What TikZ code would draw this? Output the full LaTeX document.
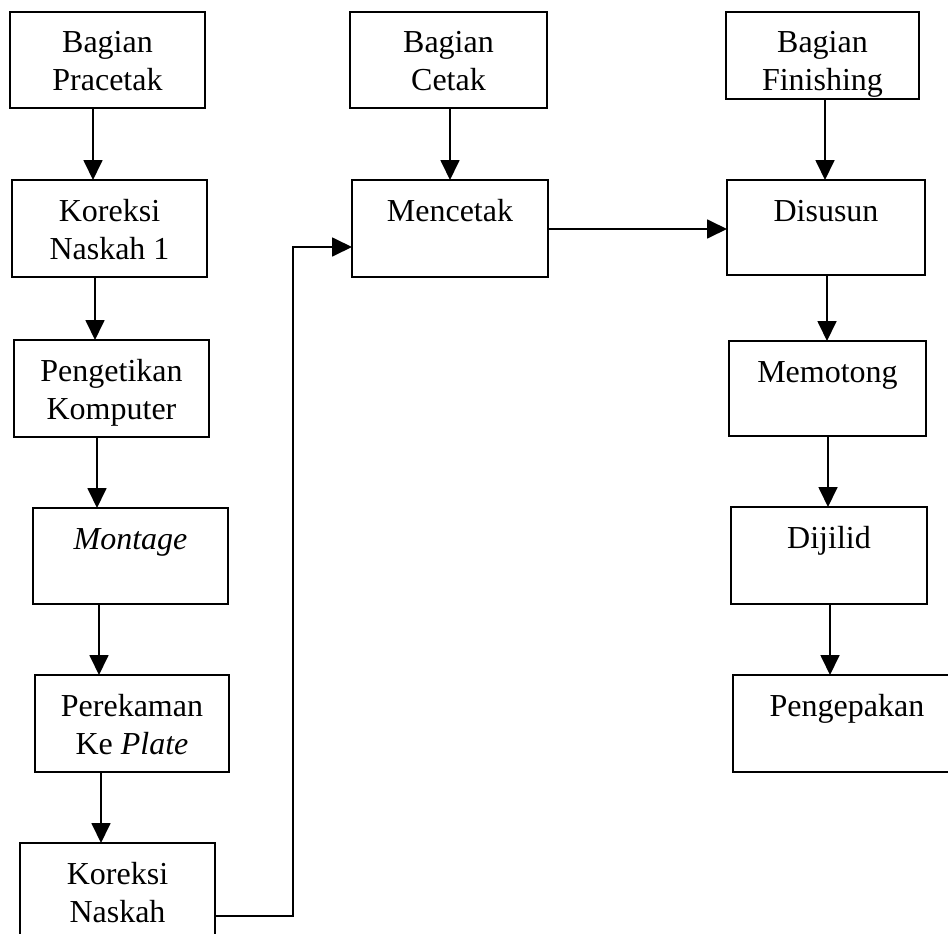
\documentclass[tikz,border=0pt]{standalone}
\usepackage{fontspec}
\setmainfont{Liberation Serif}
\usetikzlibrary{arrows.meta}
\newcommand\bxt[3]{\parbox[c][#2pt][t]{#1pt}{\centering\rule{0pt}{41pt}#3}}
\begin{document}
\begin{tikzpicture}[x=1pt,y=-1pt,
  box/.style={draw,line width=1.8pt,inner sep=0pt,outer sep=0pt,font=\fontsize{32pt}{38pt}\selectfont},
  conn/.style={line width=1.8pt,-{Triangle[length=20pt,width=19pt]}},
  plain/.style={line width=1.8pt}]
\useasboundingbox (0,0) rectangle (948,934);
\clip (0,0) rectangle (948,934);
\fill[white] (0,0) rectangle (948,934);
% left column
\node[box] (P1) at (107.5,60) {\bxt{195}{96}{Bagian\\Pracetak}};
\node[box] (P2) at (109.5,228.5) {\bxt{195}{97}{Koreksi\\Naskah 1}};
\node[box] (P3) at (111.5,388.5) {\bxt{195}{97}{Pengetikan\\Komputer}};
\node[box] (P4) at (130.5,556) {\bxt{195}{96}{\textit{Montage}}};
\node[box] (P5) at (132,723.5) {\bxt{194}{97}{Perekaman\\Ke \textit{Plate}}};
\node[box] (P6) at (117.5,891) {\bxt{195}{96}{Koreksi\\Naskah}};
% middle column
\node[box] (C1) at (448.5,60) {\bxt{197}{96}{Bagian\\Cetak}};
\node[box] (C2) at (450,228.5) {\bxt{196}{97}{Mencetak}};
% right column
\node[box] (F1) at (822.5,55.5) {\bxt{193}{87}{Bagian\\Finishing}};
\node[box] (F2) at (826,227.5) {\bxt{198}{95}{Disusun}};
\node[box] (F3) at (827.5,388.5) {\bxt{197}{95}{Memotong}};
\node[box] (F4) at (829,555.5) {\bxt{196}{97}{Dijilid}};
\node[box] (F5) at (847,723.5) {\bxt{228}{97}{Pengepakan}};
% connectors
\draw[conn] (P1.south -| 93,0) -- (P2.north -| 93,0);
\draw[conn] (P2.south -| 95,0) -- (P3.north -| 95,0);
\draw[conn] (P3.south -| 97,0) -- (P4.north -| 97,0);
\draw[conn] (P4.south -| 99,0) -- (P5.north -| 99,0);
\draw[conn] (P5.south -| 101,0) -- (P6.north -| 101,0);
\draw[conn] (P6.east |- 0,916) -| (293,247) -- (C2.west |- 0,247);
\draw[conn] (C1.south -| 450,0) -- (C2.north -| 450,0);
\draw[conn] (C2.east |- 0,229) -- (F2.west |- 0,229);
\draw[conn] (F1.south -| 825,0) -- (F2.north -| 825,0);
\draw[conn] (F2.south -| 827,0) -- (F3.north -| 827,0);
\draw[conn] (F3.south -| 828,0) -- (F4.north -| 828,0);
\draw[conn] (F4.south -| 830,0) -- (F5.north -| 830,0);
\end{tikzpicture}
\end{document}
